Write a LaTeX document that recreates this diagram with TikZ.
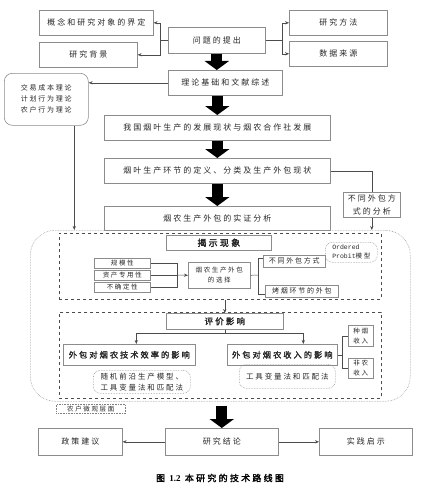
\documentclass[tikz,border=0pt]{standalone}
\usepackage{fontspec}
\setmainfont{Noto Sans CJK SC}[LetterSpace=25,AutoFakeBold=2]
\newfontfamily\monofont{Liberation Mono}
\newfontfamily\numfont{Liberation Serif}
\usetikzlibrary{arrows.meta}
\begin{document}
\begin{tikzpicture}[x=1pt,y=-1pt,
		box/.style={draw=black!45, line width=0.6pt, anchor=north west, inner sep=0pt, align=center, text=black!85, font=\fontsize{8}{10}\selectfont},
		smallbox/.style={box, font=\fontsize{6.5}{10}\selectfont},
		headbox/.style={box, font=\fontsize{9}{11}\selectfont\bfseries},
		notebox/.style={box, draw=black!40, densely dotted, rounded corners=7pt},
		areabox/.style={draw=black!70, dashed, line width=0.6pt, anchor=north west, inner sep=0pt},
		line/.style={draw=black!70, line width=0.5pt},
		arr/.style={line, -{Stealth[length=4pt,width=3.2pt]}},
		bigarrow/.style={line width=11pt, -{Triangle[width=24pt,length=9pt]}}]
	\useasboundingbox (0,0) rectangle (431,495);
	% obere Reihe
	\node[box, minimum width=114pt, minimum height=25pt] (concept) at (39,10) {概念和研究对象的界定};
	\node[box, minimum width=98pt, minimum height=25pt] (background) at (39,42) {研究背景};
	\node[box, minimum width=97pt, minimum height=26pt] (question) at (168,27) {问题的提出};
	\node[box, minimum width=98pt, minimum height=25pt] (method) at (289,10) {研究方法};
	\node[box, minimum width=98pt, minimum height=25pt] (data) at (289,41) {数据来源};
	\draw[arr] (question.west) -- ++(-8,0) |- (concept.east);
	\draw[arr] (question.west) -- ++(-8,0) |- (background.east);
	\draw[arr] (question.east) -- ++(17,0) |- (method.west);
	\draw[arr] (question.east) -- ++(17,0) |- (data.west);
	% Hauptkette
	\node[box, minimum width=114pt, minimum height=25pt] (theory) at (168,70) {理论基础和文献综述};
	\node[box, rounded corners=8pt, minimum width=84pt, minimum height=52pt, font=\fontsize{7}{11}\selectfont] (theories) at (4,73) {交易成本理论\\计划行为理论\\农户行为理论};
	\node[box, minimum width=226pt, minimum height=25pt] (status) at (104,115) {我国烟叶生产的发展现状与烟农合作社发展};
	\node[box, minimum width=226pt, minimum height=25pt] (definition) at (104,158) {烟叶生产环节的定义、分类及生产外包现状};
	\node[box, minimum width=226pt, minimum height=24pt] (empirical) at (104,206) {烟农生产外包的实证分析};
	\node[box, minimum width=57pt, minimum height=25pt, font=\fontsize{8}{12.5}\selectfont] (modes) at (343,192) {不同外包方\\式的分析};
	\draw[bigarrow] (question.south) -- (question.south |- theory.north);
	\draw[bigarrow] (theory.south -| status.north) -- (status.north);
	\draw[bigarrow] (status.south) -- (definition.north);
	\draw[bigarrow] (definition.south) -- (empirical.north);
	% Mikroebene
	\node[draw=black!40, densely dotted, line width=0.6pt, rounded corners=25pt, anchor=north west, minimum width=380pt, minimum height=171pt] (micro) at (30,230) {};
	\node[box, draw=black!50, densely dotted, minimum width=69pt, minimum height=9pt, font=\fontsize{6.5}{8}\selectfont] (microlabel) at (56,404) {农户微观层面};
	\draw[arr] (theory.west) -- (theory.west -| theories.east);
	\draw[arr] ([xshift=28pt]theories.south) -- ([xshift=28pt]theories.south |- micro.north);
	\draw[line] (definition.east) -| (modes.north);
	\draw[arr] (modes.south) -- (modes.south |- micro.north);
	%揭示现象
	\node[areabox, minimum width=322pt, minimum height=66pt] (phenomena) at (59,233) {};
	\node[headbox, minimum width=105pt, minimum height=15pt] (reveal) at (166,235) {揭示现象};
	\node[notebox, align=left, minimum width=52pt, minimum height=20pt, font=\fontsize{6.5}{9}\selectfont] (probit) at (325,242) {{\monofont Ordered}\\{\monofont Probit}模型};
	\node[smallbox, minimum width=56pt, minimum height=10pt] (scale) at (94,258) {规模性};
	\node[smallbox, minimum width=56pt, minimum height=10pt] (asset) at (94,270) {资产专用性};
	\node[smallbox, minimum width=56pt, minimum height=10pt] (uncertain) at (94,282) {不确定性};
	\node[smallbox, minimum width=62pt, minimum height=26pt] (choice) at (188,262) {烟农生产外包\\的选择};
	\node[box, minimum width=62pt, minimum height=12pt, font=\fontsize{7}{9}\selectfont] (outmode) at (263,255) {不同外包方式};
	\node[box, minimum width=73pt, minimum height=12pt, font=\fontsize{7}{9}\selectfont] (curing) at (265,285) {烤烟环节的外包};
	\coordinate (join) at (177,275);
	\coordinate (split) at (258,275);
	\draw[line] (scale.east) -| (join);
	\draw[line] (uncertain.east) -| (join);
	\draw[line] (asset.east) -- (asset.east -| join);
	\draw[arr] (join) -- (choice.west);
	\draw[line] (choice.east) -- (split);
	\draw[line] ([yshift=3pt]outmode.west) -| (split);
	\draw[line] ([yshift=-3pt]curing.west) -| (split);
	% 评价影响
	\node[areabox, minimum width=322pt, minimum height=86pt] (evaluation) at (59,312) {};
	\node[headbox, font=\fontsize{8.5}{11}\selectfont\bfseries, minimum width=117pt, minimum height=16pt] (impact) at (166,313) {评价影响};
	\node[headbox, font=\fontsize{8.2}{11}\selectfont\bfseries, minimum width=132pt, minimum height=21pt] (efficiency) at (63,344) {外包对烟农技术效率的影响};
	\node[headbox, font=\fontsize{8.2}{11}\selectfont\bfseries, minimum width=110pt, minimum height=21pt] (income) at (227,344) {外包对烟农收入的影响};
	\node[smallbox, minimum width=25pt, minimum height=21pt] (tobacco) at (348,325) {种烟\\收入};
	\node[smallbox, minimum width=25pt, minimum height=20pt] (nonfarm) at (348,358) {非农\\收入};
	\node[notebox, minimum width=97pt, minimum height=23pt, font=\fontsize{7.5}{11}\selectfont] (sfa) at (93,370) {随机前沿生产模型、\\工具变量法和匹配法};
	\node[notebox, minimum width=96pt, minimum height=24pt, font=\fontsize{7.5}{11}\selectfont] (iv) at (239,364) {工具变量法和匹配法};
	\draw[arr] (phenomena.south -| impact.north) -- (impact.north);
	\draw[line] (impact.south) -- ([yshift=-4pt]impact.south) coordinate (fork);
	\draw[arr] (fork) -| ([xshift=7pt]efficiency.north);
	\draw[arr] (fork) -| ([xshift=21pt]income.north);
	\draw[line] (income.east) -- ++(5,0) coordinate (isplit);
	\draw[line] (isplit) |- (tobacco.west);
	\draw[line] (isplit) |- (nonfarm.west);
	% untere Reihe
	\node[box, minimum width=84pt, minimum height=27pt] (policy) at (38,428) {政策建议};
	\node[box, minimum width=113pt, minimum height=27pt] (conclusion) at (165,428) {研究结论};
	\node[box, minimum width=93pt, minimum height=27pt] (practice) at (319,428) {实践启示};
	\draw[bigarrow] ([yshift=-4pt]conclusion.north |- micro.south) -- (conclusion.north);
	\draw[arr] (conclusion.west) -- (policy.east);
	\draw[arr] (conclusion.east) -- (practice.west);
	\node[font=\fontsize{9}{11}\selectfont\bfseries] (caption) at (220,478) {图 {\numfont\bfseries 1.2} 本研究的技术路线图};
\end{tikzpicture}
\end{document}
